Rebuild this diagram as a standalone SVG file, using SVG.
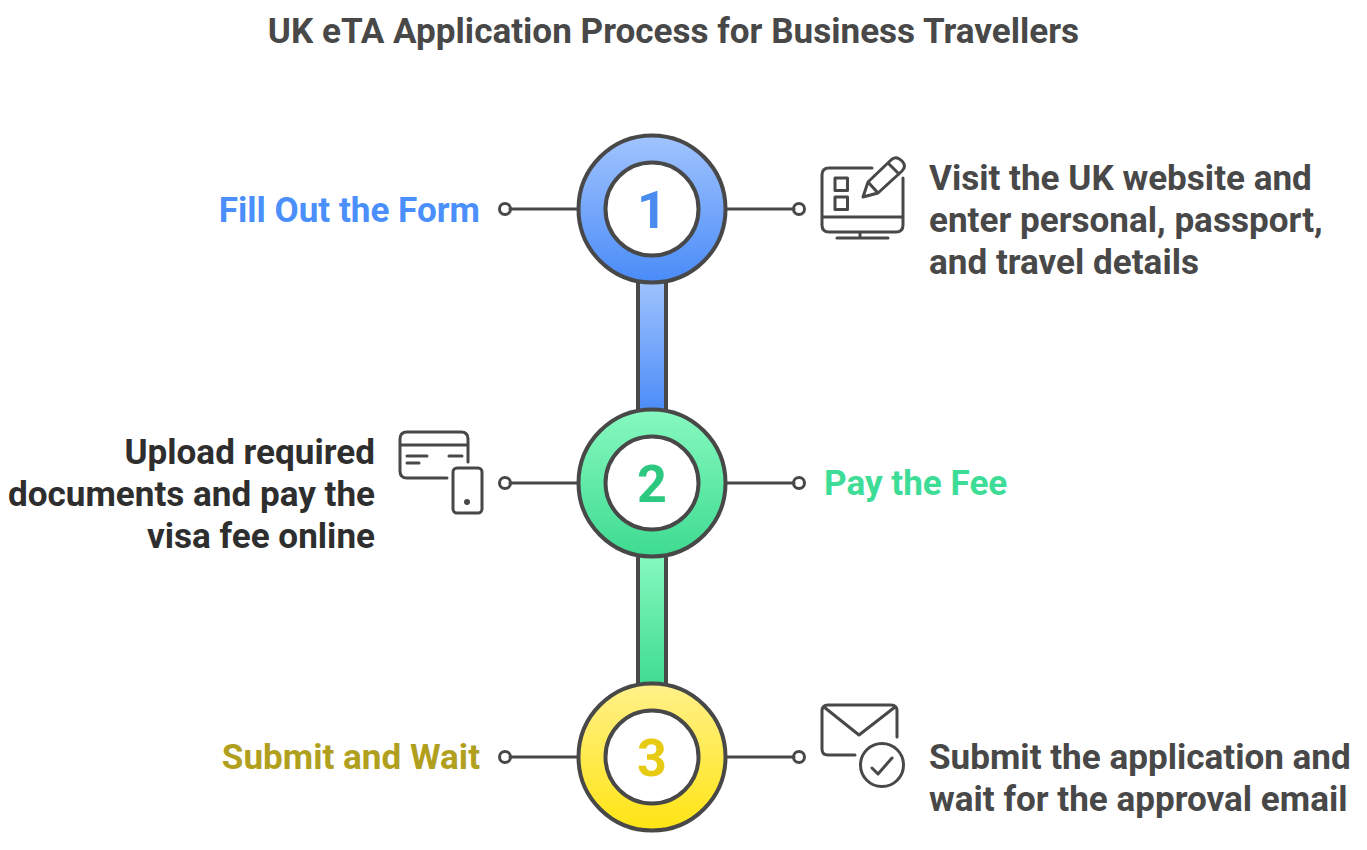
<svg xmlns="http://www.w3.org/2000/svg" width="1367" height="850" viewBox="0 0 1367 850">
<style>
text{font-family:Roboto,"Liberation Sans",sans-serif;font-weight:700}
.t{font-size:35.100px;fill:#484848}
.d{font-size:35.100px;fill:#484848}
.k{font-size:35.100px;fill:#2e2e2e;text-anchor:end}
.h{font-size:35.100px}
.n{font-size:52px;text-anchor:middle}
.e{text-anchor:end}
.l{stroke:#484848;stroke-width:3;fill:none;stroke-linecap:round;stroke-linejoin:round}
.i{stroke:#484848;stroke-width:3;fill:none;stroke-linecap:round;stroke-linejoin:round}
.o{stroke:#484848;stroke-width:4}
.w{fill:#fff;stroke:#484848;stroke-width:4}
</style>
<defs>
<linearGradient id="b" x1="0" y1="0" x2="0" y2="1"><stop offset="0" stop-color="#a1c4fd"/><stop offset="1" stop-color="#4a8bf8"/></linearGradient>
<linearGradient id="g" x1="0" y1="0" x2="0" y2="1"><stop offset="0" stop-color="#87f9c0"/><stop offset="1" stop-color="#3edb91"/></linearGradient>
<linearGradient id="y" x1="0" y1="0" x2="0" y2="1"><stop offset="0" stop-color="#fff18a"/><stop offset="1" stop-color="#ffe414"/></linearGradient>
</defs>
<text class="t" x="673.500" y="42.500" text-anchor="middle">UK eTA Application Process for Business Travellers</text>
<g id="connectors">
<rect class="o" x="638" y="278" width="28" height="136" fill="url(#b)"/>
<rect class="o" x="638" y="552" width="28" height="136" fill="url(#g)"/>
<g class="l">
<path d="M510 209H578M726 209H794M510 483H578M726 483H794M510 757H578M726 757H794"/>
<circle cx="505" cy="209" r="5.500"/><circle cx="799" cy="209" r="5.500"/>
<circle cx="505" cy="483" r="5.500"/><circle cx="799" cy="483" r="5.500"/>
<circle cx="505" cy="757" r="5.500"/><circle cx="799" cy="757" r="5.500"/>
</g>
</g>
<g id="node-1">
<circle class="o" cx="652" cy="209" r="73.500" fill="url(#b)"/><circle class="w" cx="652" cy="209" r="46.500"/>
<text class="n" x="652" y="228" fill="#4a8bf0">1</text>
<text class="h e" x="480" y="221.500" fill="#4a8ffb">Fill Out the Form</text>
<g class="i">
<path d="M872 168H829Q822 168 822 175V225Q822 232 829 232H896Q903 232 903 225V178M822 217H903M860 232V238M837 238H888"/>
<rect x="835" y="178" width="12.500" height="12.500"/><rect x="835" y="197" width="12.500" height="12.500"/>
<path d="M863 197L868 182L891 160Q896 155 902 161Q907 166 902 171L878 193ZM888 163L899 174M868 182L878 193"/>
</g>
<g class="d"><text x="929" y="189.500">Visit the UK website and</text><text x="929" y="232">enter personal, passport,</text><text x="929" y="273.500">and travel details</text></g>
</g>
<g id="node-2">
<circle class="o" cx="652" cy="483" r="73.500" fill="url(#g)"/><circle class="w" cx="652" cy="483" r="46.500"/>
<text class="n" x="652" y="502" fill="#2cc87f">2</text>
<text class="h" x="824" y="495" fill="#3ddc97">Pay the Fee</text>
<g class="i">
<path d="M447 478H407Q400 478 400 471V439Q400 432 407 432H461Q468 432 468 439V462M400 445H468M407 456H427M407 463H419M449 456H462"/>
<rect x="453" y="468" width="29" height="45" rx="4"/><circle cx="467" cy="502" r="1.500" fill="#484848"/>
</g>
<g><text class="k" x="375" y="463.500">Upload required</text><text class="k" x="375" y="505.500">documents and pay the</text><text class="k" x="375" y="547.500">visa fee online</text></g>
</g>
<g id="node-3">
<circle class="o" cx="652" cy="757" r="73.500" fill="url(#y)"/><circle class="w" cx="652" cy="757" r="46.500"/>
<text class="n" x="652" y="776" fill="#e6cb12">3</text>
<text class="h e" x="480" y="769" fill="#b0a01e">Submit and Wait</text>
<g class="i">
<path d="M897 737V711Q897 705 891 705H828Q822 705 822 711V749Q822 755 828 755H855M824 707L859 735L895 707"/>
<circle cx="882" cy="765" r="21.500"/><path d="M872 768L878 774L892 758"/>
</g>
<g class="d"><text x="929" y="768.500">Submit the application and</text><text x="929" y="810.500">wait for the approval email</text></g>
</g>
</svg>
